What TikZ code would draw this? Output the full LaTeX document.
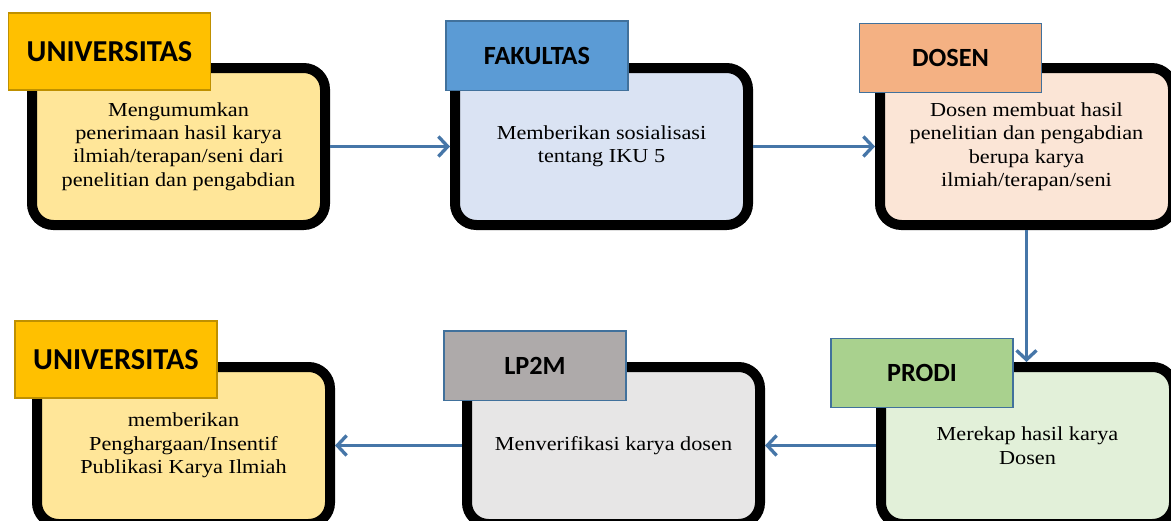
\documentclass[tikz,border=0pt]{standalone}
\usepackage{fontspec}
\usepackage{tikz}
\usetikzlibrary{arrows.meta,positioning}
\newfontfamily\bodyfont[FakeStretch=1.12]{Liberation Serif}
\newfontfamily\labelfont{Carlito}
\definecolor{GoldFill}{RGB}{255,192,0}
\definecolor{GoldLine}{RGB}{191,144,0}
\definecolor{GoldLight}{RGB}{255,230,153}
\definecolor{BlueFill}{RGB}{91,155,213}
\definecolor{BlueLight}{RGB}{218,227,243}
\definecolor{PeachFill}{RGB}{244,177,131}
\definecolor{PeachLight}{RGB}{251,229,214}
\definecolor{GreenFill}{RGB}{169,209,142}
\definecolor{GreenLight}{RGB}{226,240,217}
\definecolor{GrayFill}{RGB}{174,170,170}
\definecolor{GrayLight}{RGB}{231,230,230}
\definecolor{EdgeBlue}{RGB}{65,113,156}
\definecolor{ArrowBlue}{RGB}{70,118,168}
\tikzset{
	box/.style={draw=black, line width=7.5pt, rounded corners=16pt,
		minimum width=219.75pt, minimum height=117.75pt, align=center,
		font=\bodyfont\fontsize{14.9}{17.6}\selectfont},
	lbl/.style={draw=EdgeBlue, line width=1pt, minimum width=136.5pt,
		minimum height=52pt, font=\labelfont\bfseries\fontsize{19.7}{22}\selectfont},
	unilbl/.style={lbl, draw=GoldLine, fill=GoldFill, minimum width=151.5pt,
		minimum height=57.75pt, font=\labelfont\bfseries\fontsize{22.8}{26}\selectfont},
	flow/.style={draw=ArrowBlue, line width=2.5pt, -{Straight Barb[length=7pt, width=15pt]}}
}

\begin{document}
\begin{tikzpicture}[x=0.75pt, y=-0.75pt]
	\useasboundingbox (0,0) rectangle (1171,521);
	\clip (0,0) rectangle (1171,521);
	% boxes
	\node[box, fill=GoldLight] (uni1) at (178.5,146.5) {Mengumumkan\\penerimaan hasil karya\\ilmiah/terapan/seni dari\\penelitian dan pengabdian};
	\node[box, fill=BlueLight] (fak) at (601.5,146.5) {Memberikan sosialisasi\\tentang IKU 5};
	\node[box, fill=PeachLight] (dosen) at (1026.5,146.5) {Dosen membuat hasil\\penelitian dan pengabdian\\berupa karya\\ilmiah/terapan/seni};
	\node[box, fill=GreenLight] (prodi) at (1027.5,445.5) {Merekap hasil karya\\Dosen};
	\node[box, fill=GrayLight] (lppm) at (613.5,445.5) {Menverifikasi karya dosen};
	\node[box, fill=GoldLight] (uni2) at (183.5,445.5) {memberikan\\Penghargaan/Insentif\\Publikasi Karya Ilmiah};
	% labels
	\node[unilbl] (uni1lbl) at (109.5,51.5) {UNIVERSITAS};
	\node[lbl, fill=BlueFill] (faklbl) at (537,55.5) {FAKULTAS};
	\node[lbl, fill=PeachFill] (dosenlbl) at (950.5,58) {DOSEN};
	\node[lbl, fill=GreenFill] (prodilbl) at (922,373) {PRODI};
	\node[lbl, fill=GrayFill] (lppmlbl) at (535,365.5) {LP2M};
	\node[unilbl] (uni2lbl) at (116,359.5) {UNIVERSITAS};
	% arrows
	\draw[flow] (uni1) -- (fak);
	\draw[flow] (fak) -- (dosen);
	\draw[flow] (dosen.south) -- (dosen.south |- prodi.north);
	\draw[flow] (prodi) -- (lppm);
	\draw[flow] (lppm) -- (uni2);
\end{tikzpicture}
\end{document}
